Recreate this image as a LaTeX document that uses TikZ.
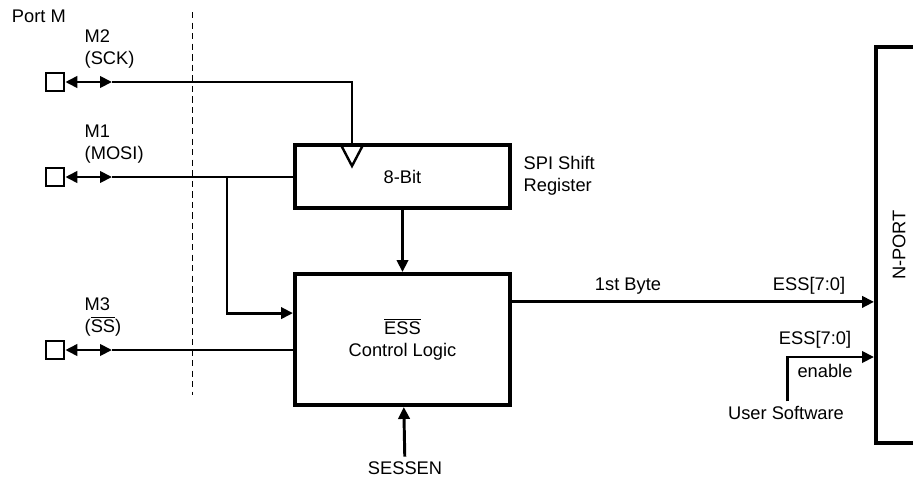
\documentclass[tikz,border=0pt]{standalone}
\usepackage{fontspec}
\setmainfont{Liberation Sans}
\usepackage{tikz}
\usetikzlibrary{arrows.meta,positioning,calc}
\tikzset{
  blockbox/.style={
    rectangle,
    draw=black,
    line width=2.8pt,
    minimum width=5.375cm,
    align=center,
    inner sep=2pt
  },
  portpad/.style={
    rectangle,
    draw=black,
    line width=1.3pt,
    minimum size=0.47cm,
    inner sep=0pt
  },
  sigwire/.style={
    line width=2.1pt,
    draw=black
  },
  sigarrow/.style={
    sigwire,
    -{Triangle[length=8.5pt,width=8pt]}
  },
  portarrow/.style={
    sigwire,
    {Triangle[length=8.5pt,width=8pt]}-{Triangle[length=8.5pt,width=8pt]}
  },
  sigtext/.style={
    align=left,
    inner sep=1pt
  }
}

\begin{document}
\begin{tikzpicture}[x=0.025cm,y=-0.025cm,font=\fontsize{13}{15.6}\selectfont]
\useasboundingbox (0,0) rectangle (913,482);

% blocks
\node[blockbox, minimum height=1.575cm] (reg) at (402.5,176.5) {8-Bit};
\node[blockbox, minimum height=3.275cm] (ctrl) at (402.5,339.5) {$\overline{\mbox{ESS}}$\\Control Logic};
\node[blockbox, minimum width=2cm, minimum height=9.9cm] (nport) at (916,245) {};
\node[rotate=90] (nportlbl) at (899,245) {N-PORT};
\node[sigtext, anchor=west] (reglbl) at (522,176) {SPI Shift\\Register};

% port pins
\node[anchor=west] (portm) at (7,16) {Port M};
\node[portpad] (m2sq) at (55,82) {};
\node[portpad] (m1sq) at (55,177) {};
\node[portpad] (m3sq) at (55,350) {};
\node[sigtext, anchor=west] (m2lbl) at (83,49) {M2\\(SCK)};
\node[sigtext, anchor=west] (m1lbl) at (83,144) {M1\\(MOSI)};
\node[sigtext, anchor=west] (m3lbl) at (83,317) {M3\\($\overline{\mbox{SS}}$)};
\coordinate (m2mid) at (112,82);
\coordinate (m1mid) at (112,177);
\coordinate (m3mid) at (112,350);
\coordinate (m1tap) at (227,177);
\coordinate (clk) at (352,145);

\draw[dashed, line width=0.7pt, dash pattern=on 4.5pt off 3pt] (192,12) -- (192,395);

% SCK into shift register clock
\draw[portarrow] (m2sq) -- (m2mid);
\draw[sigwire] (m2mid) -| (clk);
\draw[line width=1.7pt] ($(clk)+(-11,0)$) -- ($(clk)+(0,21)$) -- ($(clk)+(11,0)$);

% MOSI
\draw[portarrow] (m1sq) -- (m1mid);
\draw[sigwire] (m1mid) -- (m1mid -| reg.west);
\draw[sigarrow] (m1tap) |- ([yshift=0.66cm]ctrl.west);

% SS
\draw[portarrow] (m3sq) -- (m3mid);
\draw[sigwire] (m3mid) -- (m3mid -| ctrl.west);

\draw[sigarrow] (reg) -- (ctrl);

% SESSEN
\node (sessen) at (405,468) {SESSEN};
\draw[sigarrow] (sessen) -- (ctrl);

% outputs to N-port
\coordinate (byteout) at ([yshift=0.94cm]ctrl.east);
\draw[sigarrow] (byteout) -- (byteout -| nport.west);
\node (bytelbl) at (628,286) {1st Byte};
\node (esslbl) at (809,286) {ESS[7:0]};

\node (usw) at (786,413) {User Software};
\coordinate (enin) at (874,357);
\draw[sigarrow] ([xshift=0.03cm]usw.north) |- (enin);
\node (ess2lbl) at (815,340) {ESS[7:0]};
\node (enlbl) at (825,371) {enable};
\end{tikzpicture}
\end{document}
